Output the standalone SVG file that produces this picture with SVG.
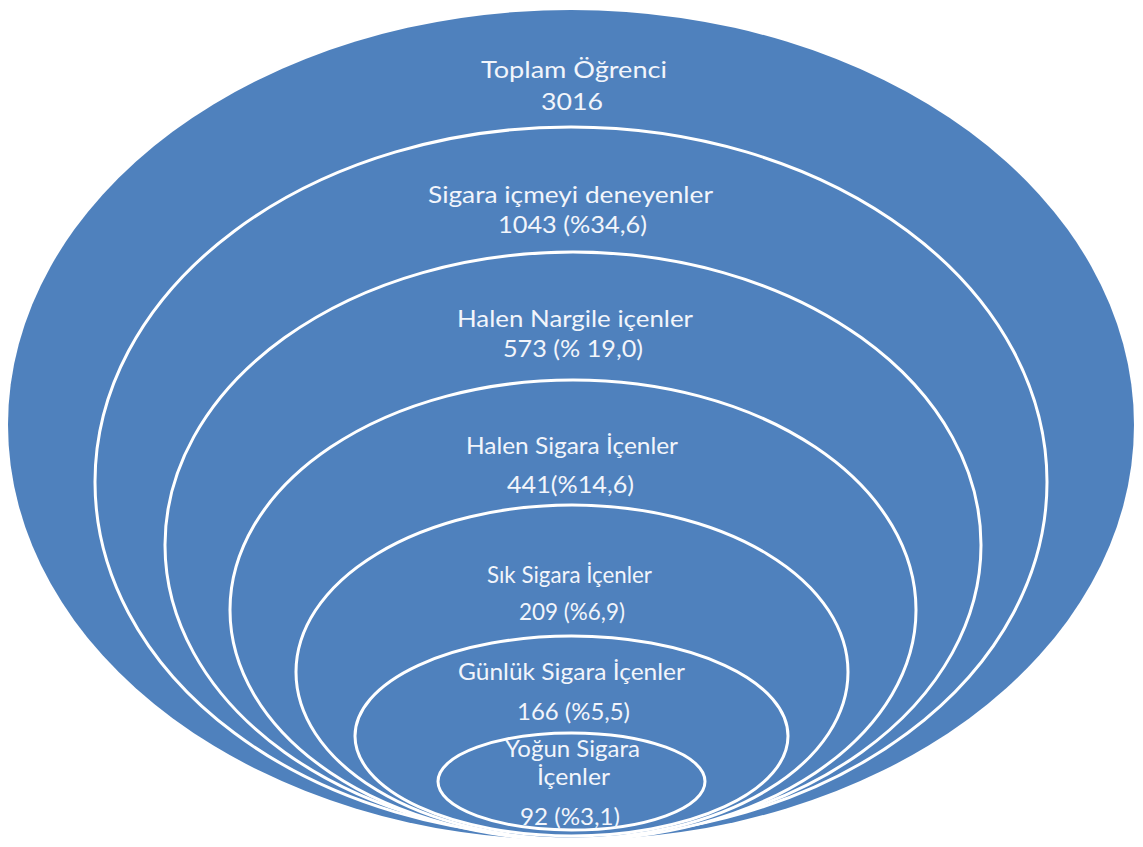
<svg xmlns="http://www.w3.org/2000/svg" width="1143" height="847" viewBox="0 0 1143 847">
<style>
.e{fill:#4F81BD;stroke:#FFFFFF;stroke-width:3}
.o{fill:#4F81BD;stroke:none}
.t{font-family:Lato,"Open Sans","Liberation Sans",sans-serif;font-size:24px;fill:#F2F5FB;text-anchor:middle}
</style>
<rect width="1143" height="847" fill="#FFFFFF"/>
<g id="connectors"></g>
<g id="n1">
<ellipse class="o" cx="571" cy="425" rx="563" ry="415"/>
<text class="t" x="574" y="78" textLength="186" lengthAdjust="spacingAndGlyphs">Toplam Öğrenci</text>
<text class="t" x="572" y="110" textLength="62" lengthAdjust="spacingAndGlyphs">3016</text>
</g>
<g id="n2">
<ellipse class="e" cx="571" cy="482" rx="476" ry="355"/>
<text class="t" x="570.5" y="203" textLength="285" lengthAdjust="spacingAndGlyphs">Sigara içmeyi deneyenler</text>
<text class="t" x="572.5" y="233" textLength="149" lengthAdjust="spacingAndGlyphs">1043 (%34,6)</text>
</g>
<g id="n3">
<ellipse class="e" cx="573" cy="545" rx="408" ry="293"/>
<text class="t" x="575" y="327" textLength="236" lengthAdjust="spacingAndGlyphs">Halen Nargile içenler</text>
<text class="t" x="573" y="357" textLength="140" lengthAdjust="spacingAndGlyphs">573 (% 19,0)</text>
</g>
<g id="n4">
<ellipse class="e" cx="573" cy="610" rx="343" ry="230"/>
<text class="t" x="572" y="454" textLength="212" lengthAdjust="spacingAndGlyphs">Halen Sigara İçenler</text>
<text class="t" x="570.5" y="493" textLength="127" lengthAdjust="spacingAndGlyphs">441(%14,6)</text>
</g>
<g id="n5">
<ellipse class="e" cx="572" cy="672" rx="276" ry="167"/>
<text class="t" x="569.5" y="583" textLength="165" lengthAdjust="spacingAndGlyphs">Sık Sigara İçenler</text>
<text class="t" x="572" y="620" textLength="106" lengthAdjust="spacingAndGlyphs">209 (%6,9)</text>
</g>
<g id="n6">
<ellipse class="e" cx="571.5" cy="736" rx="216.5" ry="100"/>
<text class="t" x="571.5" y="680" textLength="227" lengthAdjust="spacingAndGlyphs">Günlük Sigara İçenler</text>
<text class="t" x="573.5" y="720" textLength="113" lengthAdjust="spacingAndGlyphs">166 (%5,5)</text>
</g>
<g id="n7">
<ellipse class="e" cx="571.5" cy="781.5" rx="133.5" ry="48.5"/>
<text class="t" x="572.5" y="757" textLength="135" lengthAdjust="spacingAndGlyphs">Yoğun Sigara</text>
<text class="t" x="573.5" y="785" textLength="73" lengthAdjust="spacingAndGlyphs">İçenler</text>
<text class="t" x="570" y="825" textLength="100" lengthAdjust="spacingAndGlyphs">92 (%3,1)</text>
</g>
</svg>
